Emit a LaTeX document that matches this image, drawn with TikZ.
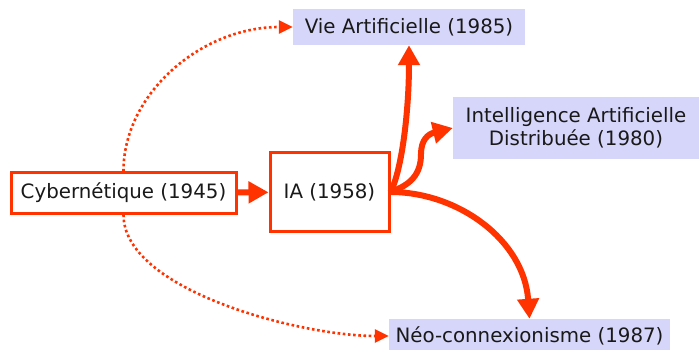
\documentclass[tikz,border=0pt]{standalone}
\usepackage{fontspec}
\setmainfont{DejaVu Sans}
\usepackage{tikz}
\usetikzlibrary{arrows.meta}
\definecolor{flame}{RGB}{255,51,0}
\definecolor{lilac}{RGB}{214,214,250}

\begin{document}
\begin{tikzpicture}[
  x=1pt, y=-1pt,
  every node/.style={font=\fontsize{19.8}{23}\selectfont, inner sep=0pt, align=center, text=black!90},
  origin/.style={draw=flame, line width=3pt},
  branch/.style={fill=lilac},
  arr/.style={-{Triangle[length=20pt,width=21pt]}, line width=6pt, flame},
  dots/.style={-{Triangle[length=14pt,width=13pt]}, line width=2.6pt, flame,
    dash pattern=on 2.6pt off 2.6pt}
]
\useasboundingbox (0,0) rectangle (699,350);
\node[origin, minimum width=225pt, minimum height=40pt] (cyb) at (123.5,193) {Cybernétique (1945)};
\node[origin, minimum width=119pt, minimum height=78pt] (ia) at (329.5,192) {IA (1958)};
\node[branch, minimum width=232pt, minimum height=36pt] (vie) at (409,27) {Vie Artificielle (1985)};
\node[branch, minimum width=246pt, minimum height=62pt] (iad) at (576,128) {Intelligence Artificielle\\Distribuée (1980)};
\node[branch, minimum width=281pt, minimum height=34pt] (neo) at (529.5,336) {Néo-connexionisme (1987)};
\draw[arr] (cyb) -- (ia);
\draw[arr] (ia.east) .. controls (402,170) and (409,110) .. (vie.south);
\draw[arr] (ia.east) .. controls (410,185) and (421,175) .. (421,154)
  .. controls (421,140) and (428,134) .. (iad.west);
\draw[arr] (ia.east) .. controls (458,192) and (524,240) .. (neo.north);
\draw[dots] (cyb.north) .. controls (123,95) and (200,27) .. (vie.west);
\draw[dots] (cyb.south) .. controls (123,290) and (300,336) .. (neo.west);
\end{tikzpicture}
\end{document}
